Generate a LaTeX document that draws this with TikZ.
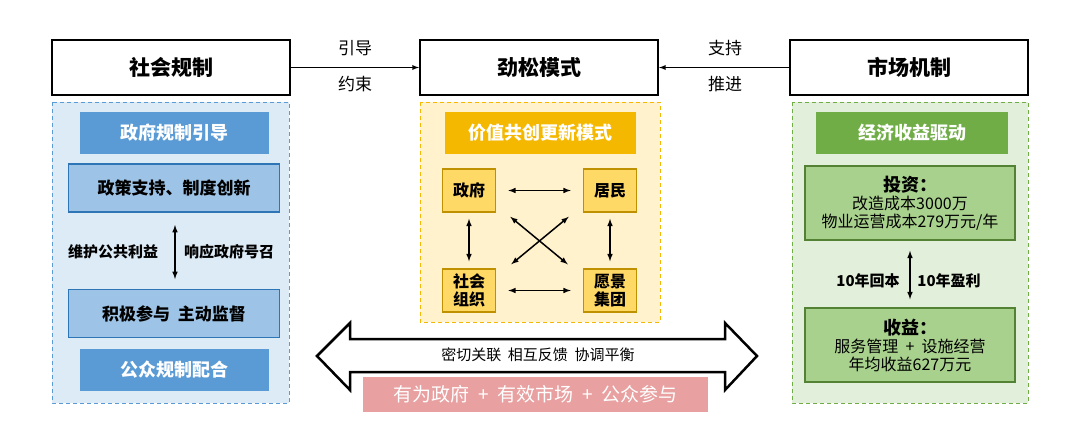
\documentclass[tikz,border=0pt]{standalone}
\usepackage{fontspec}
\setmainfont{Noto Sans CJK SC}
\usetikzlibrary{arrows}
\definecolor{bluedark}{HTML}{5B9BD5}
\definecolor{blueline}{HTML}{2E75B6}
\definecolor{bluemid}{HTML}{9DC3E6}
\definecolor{bluelight}{HTML}{DDEBF7}
\definecolor{golddark}{HTML}{F5B800}
\definecolor{goldline}{HTML}{BF9000}
\definecolor{goldmid}{HTML}{FFD966}
\definecolor{goldlight}{HTML}{FFF2CC}
\definecolor{greendark}{HTML}{70AD47}
\definecolor{greenline}{HTML}{548235}
\definecolor{greenmid}{HTML}{A9D18E}
\definecolor{greenlight}{HTML}{E2EFDA}
\definecolor{pinkbar}{HTML}{E8A0A0}
\newcommand{\gap}{\hspace{0.45em}}
\tikzset{
  topbox/.style={draw=black, line width=2pt, fill=white, minimum width=238pt, minimum height=55pt, font=\fontsize{21}{23}\selectfont\bfseries},
  panel/.style={dashed, line width=1pt, dash pattern=on 4pt off 3pt},
  titlebox/.style={minimum height=42pt, text=white, font=\fontsize{18}{20}\selectfont\bfseries},
  bluebox/.style={draw=blueline, line width=1.5pt, fill=bluemid, minimum width=211pt, minimum height=48pt, font=\fontsize{17}{19}\selectfont\bfseries},
  smallbox/.style={draw=goldline, line width=1.5pt, fill=goldmid, minimum width=53pt, minimum height=43pt, align=center, font=\fontsize{16}{18}\selectfont\bfseries},
  greenbox/.style={draw=greenline, line width=1.5pt, fill=greenmid, minimum width=210pt, minimum height=74pt, align=center, font=\fontsize{16}{18}\selectfont},
  plain/.style={font=\fontsize{17}{19}\selectfont},
  side/.style={font=\fontsize{15}{17}\selectfont\bfseries},
  link/.style={latex-latex, line width=1.5pt}
}
\begin{document}
\begin{tikzpicture}[x=1pt, y=-1pt]
  \useasboundingbox (0, 0) rectangle (1080, 445);
  % Draw panels
  \draw [panel, draw=bluedark, fill=bluelight] (52, 102) rectangle (289, 403);
  \draw [panel, draw=golddark, fill=goldlight] (420, 102) rectangle (660, 322);
  \draw [panel, draw=greendark, fill=greenlight] (792, 102) rectangle (1028, 403);
  % Top boxes and arrows
  \node [topbox] (social) at (171, 67.5) {社会规制};
  \node [topbox] (jinsong) at (539, 67.5) {劲松模式};
  \node [topbox] (market) at (909, 67.5) {市场机制};
  \draw [-latex, line width=1.3pt] (social) -- (jinsong);
  \draw [-latex, line width=1.3pt] (market) -- (jinsong);
  \node [plain] (guide) at (355, 48) {引导};
  \node [plain] (bind) at (355, 84) {约束};
  \node [plain] (support) at (725, 48) {支持};
  \node [plain] (push) at (725, 84) {推进};
  % Left panel
  \node [titlebox, fill=bluedark, minimum width=189pt] (govtitle) at (174.5, 133) {政府规制引导};
  \node [bluebox] (policy) at (174, 188) {政策支持、制度创新};
  \node [bluebox] (engage) at (174, 313.5) {积极参与\gap 主动监督};
  \node [titlebox, fill=bluedark, minimum width=189pt] (public) at (174.5, 369.5) {公众规制配合};
  \coordinate (lt) at (175, 225);
  \coordinate (lb) at (175, 279);
  \draw [link] (lt) -- (lb);
  \node [side] (keep) at (113, 252) {维护公共利益};
  \node [side] (respond) at (229, 252) {响应政府号召};
  % Middle panel
  \node [titlebox, fill=golddark, minimum width=191pt] (cocreate) at (540.5, 133) {价值共创更新模式};
  \node [smallbox] (gov) at (469, 190.5) {政府};
  \node [smallbox] (resident) at (610, 190.5) {居民};
  \node [smallbox] (org) at (469, 290.5) {社会\\组织};
  \node [smallbox] (vision) at (610, 290.5) {愿景\\集团};
  \draw [link] ([xshift=12pt]gov.east) -- ([xshift=-12pt]resident.west);
  \draw [link] ([xshift=12pt]org.east) -- ([xshift=-12pt]vision.west);
  \draw [link] ([yshift=-6pt]gov.south) -- ([yshift=7pt]org.north);
  \draw [link] ([yshift=-6pt]resident.south) -- ([yshift=7pt]vision.north);
  \draw [link] ([xshift=14pt, yshift=-4pt]gov.south east) -- ([xshift=-15pt, yshift=4pt]vision.north west);
  \draw [link] ([xshift=-14pt, yshift=-4pt]resident.south west) -- ([xshift=15pt, yshift=4pt]org.north east);
  % Right panel
  \node [titlebox, fill=greendark, minimum width=192pt] (income) at (912, 133) {经济收益驱动};
  \node [greenbox] (invest) at (910, 203) {{\bfseries\fontsize{18}{20}\selectfont 投资：}\\改造成本3000万\\物业运营成本279万元/年};
  \node [greenbox] (revenue) at (910, 345) {{\bfseries\fontsize{18}{20}\selectfont 收益：}\\服务管理\gap +\gap 设施经营\\年均收益627万元};
  \draw [link] ([yshift=-10pt]invest.south) -- ([yshift=8pt]revenue.north);
  \node [side] (payback) at (868, 281) {10年回本};
  \node [side] (profit) at (949, 281) {10年盈利};
  % Bottom double arrow
  \draw [line width=2.5pt, fill=white, line join=miter]
    (317, 356) -- (350, 323) -- (350, 339) -- (725, 339) -- (725, 323) -- (757, 356)
    -- (725, 390) -- (725, 372) -- (350, 372) -- (350, 390) -- cycle;
  \node [font=\fontsize{15}{17}\selectfont] (bond) at (538, 355) {密切关联\gap 相互反馈\gap 协调平衡};
  \node [fill=pinkbar, text=white, minimum width=345pt, minimum height=35pt, font=\fontsize{19}{21}\selectfont] (triple) at (535.5, 394.5) {有为政府\gap +\gap 有效市场\gap +\gap 公众参与};
\end{tikzpicture}
\end{document}
